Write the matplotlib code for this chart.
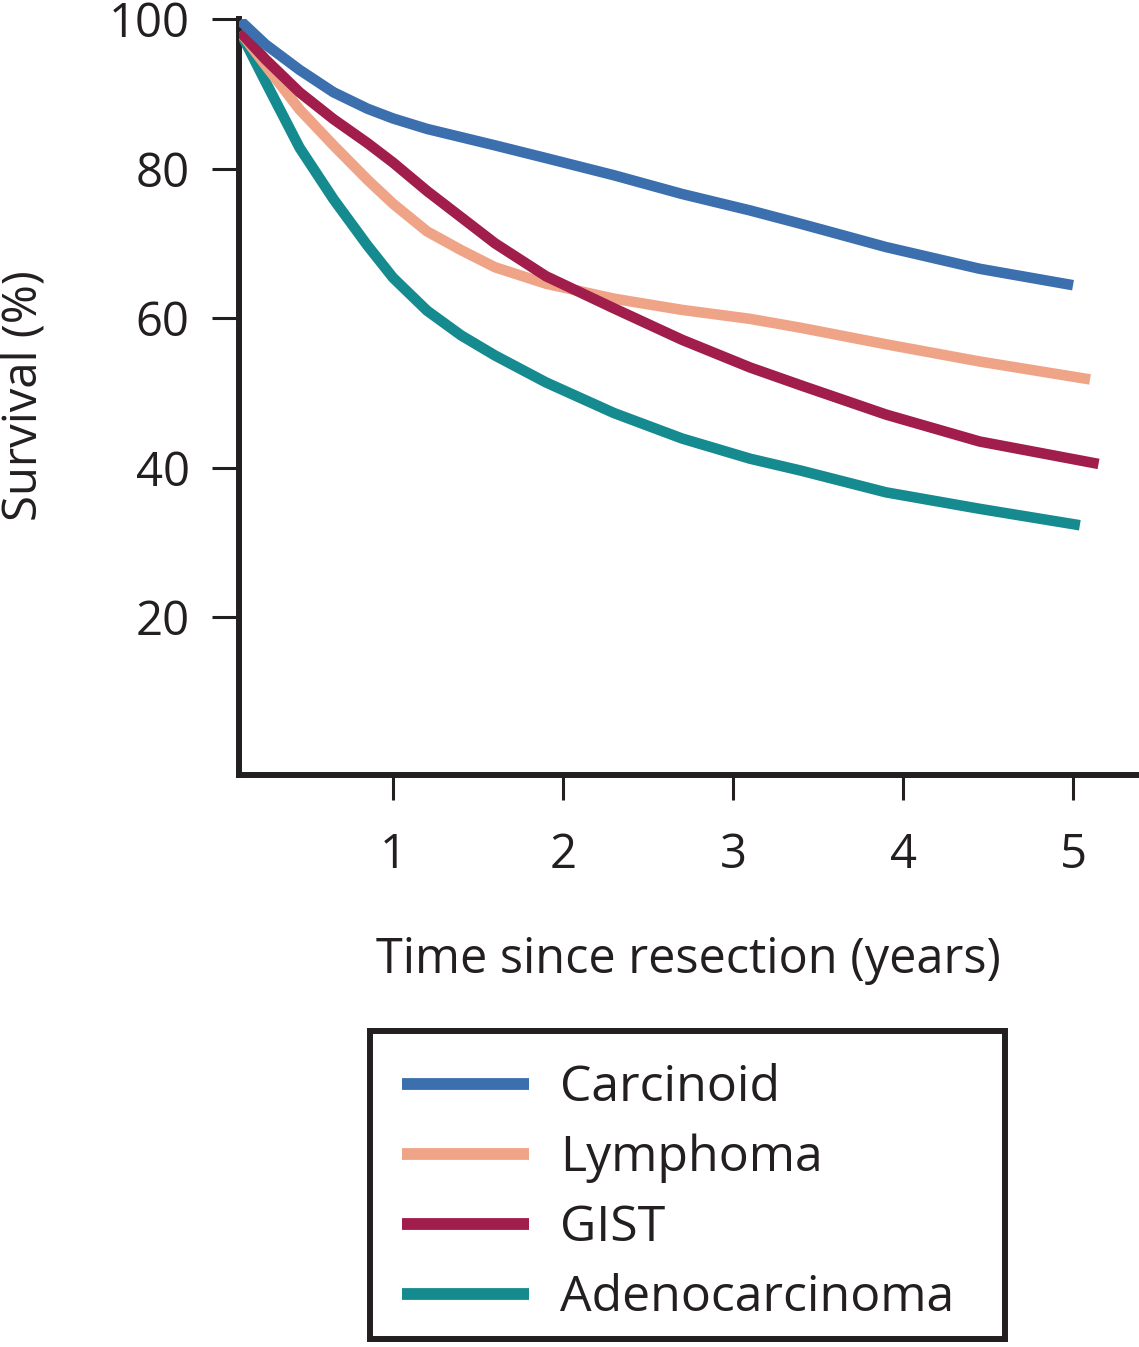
import matplotlib
matplotlib.use("Agg")
import matplotlib.pyplot as plt
from matplotlib.lines import Line2D
from matplotlib.patches import Rectangle

plt.rcParams['font.family'] = ['Open Sans', 'DejaVu Sans']

# Data (survival %, by years since resection)
years_carcinoid = [0.1, 0.25, 0.45, 0.65, 0.85, 1.0, 1.2, 1.4, 1.6, 1.9, 2.3, 2.7, 3.1, 3.4, 3.9, 4.45, 5.0]
carcinoid = [99.8, 96.6, 93.2, 90.2, 88.0, 86.7, 85.3, 84.2, 83.1, 81.4, 79.1, 76.6, 74.4, 72.6, 69.5, 66.6, 64.4]

years_lymphoma = [0.1, 0.25, 0.45, 0.65, 0.85, 1.0, 1.2, 1.4, 1.6, 1.9, 2.3, 2.7, 3.1, 3.4, 3.9, 4.45, 5.1]
lymphoma = [98.3, 93.8, 87.9, 83.1, 78.5, 75.3, 71.6, 69.1, 66.8, 64.6, 62.6, 61.1, 59.9, 58.7, 56.5, 54.2, 51.8]

years_gist = [0.1, 0.25, 0.45, 0.65, 0.85, 1.0, 1.2, 1.4, 1.6, 1.9, 2.3, 2.7, 3.1, 3.4, 3.9, 4.45, 5.15]
gist = [98.3, 94.6, 90.2, 86.6, 83.4, 80.8, 77.0, 73.5, 70.0, 65.6, 61.3, 57.1, 53.4, 51.0, 47.1, 43.5, 40.5]

years_adeno = [0.1, 0.25, 0.45, 0.65, 0.85, 1.0, 1.2, 1.4, 1.6, 1.9, 2.3, 2.7, 3.1, 3.4, 3.9, 4.45, 5.04]
adeno = [98.3, 91.6, 82.8, 75.9, 69.7, 65.4, 61.0, 57.7, 55.0, 51.4, 47.3, 43.9, 41.2, 39.6, 36.7, 34.5, 32.3]

series_names = ['Carcinoid', 'Lymphoma', 'GIST', 'Adenocarcinoma']
series_colors = ['#3b6fad', '#f0a487', '#a11d4b', '#158a8f']

x_ticks = [1, 2, 3, 4, 5]
y_ticks = [20, 40, 60, 80, 100]

INK = '#231f20'

fig = plt.figure(figsize=(11.39, 13.47), dpi=100)
ax = fig.add_axes([239/1139, 1 - 775/1347, 1 - 239/1139, (775 - 19)/1347])

xs = [years_carcinoid, years_lymphoma, years_gist, years_adeno]
ys = [carcinoid, lymphoma, gist, adeno]
order = [3, 1, 2, 0]
for i in order:
    ax.plot(xs[i], ys[i], color=series_colors[i], lw=7.6,
            solid_capstyle='butt', solid_joinstyle='round', zorder=3)

ax.set_xlim(0.094, 5.388)
ax.set_ylim(-1.1, 100)
ax.set_xticks(x_ticks)
ax.set_yticks(y_ticks)
ax.set_xticklabels([str(v) for v in x_ticks])
ax.set_yticklabels([str(v) for v in y_ticks])

for s in ['top', 'right']:
    ax.spines[s].set_visible(False)
for s in ['left', 'bottom']:
    ax.spines[s].set_linewidth(4.3)
    ax.spines[s].set_color(INK)
    ax.spines[s].set_capstyle('projecting')

ax.tick_params(axis='y', direction='out', length=19.5, width=2.2, color=INK,
               labelsize=34, pad=16, labelcolor=INK)
ax.tick_params(axis='x', direction='out', length=18, width=2.2, color=INK,
               labelsize=34, pad=23, labelcolor=INK)

fig.text(688/1139, 1 - 960/1347, 'Time since resection (years)', ha='center', va='center',
         fontsize=35, color=INK)
fig.text(1/1139, 1 - 396/1347, 'Survival (%)', ha='left', va='center', rotation=90,
         fontsize=34, color=INK)

# legend frame
W, H = 1139, 1347
fig.patches.append(Rectangle((370/W, 1 - 1339/H), (1005 - 370)/W, (1339 - 1031)/H,
                             transform=fig.transFigure, fill=False,
                             edgecolor=INK, linewidth=4.3, joinstyle='miter'))

handles = [Line2D([0], [0], color=c, lw=8.5, solid_capstyle='butt') for c in series_colors]
leg = fig.legend(handles, series_names, loc='upper left',
                 bbox_to_anchor=(401.5/W, 1 - 1063.5/H),
                 frameon=False, fontsize=36,
                 handlelength=2.55, handletextpad=0.62, labelspacing=0.41,
                 borderpad=0, borderaxespad=0)
for t in leg.get_texts():
    t.set_color(INK)

fig.savefig('out.png', dpi=100)
